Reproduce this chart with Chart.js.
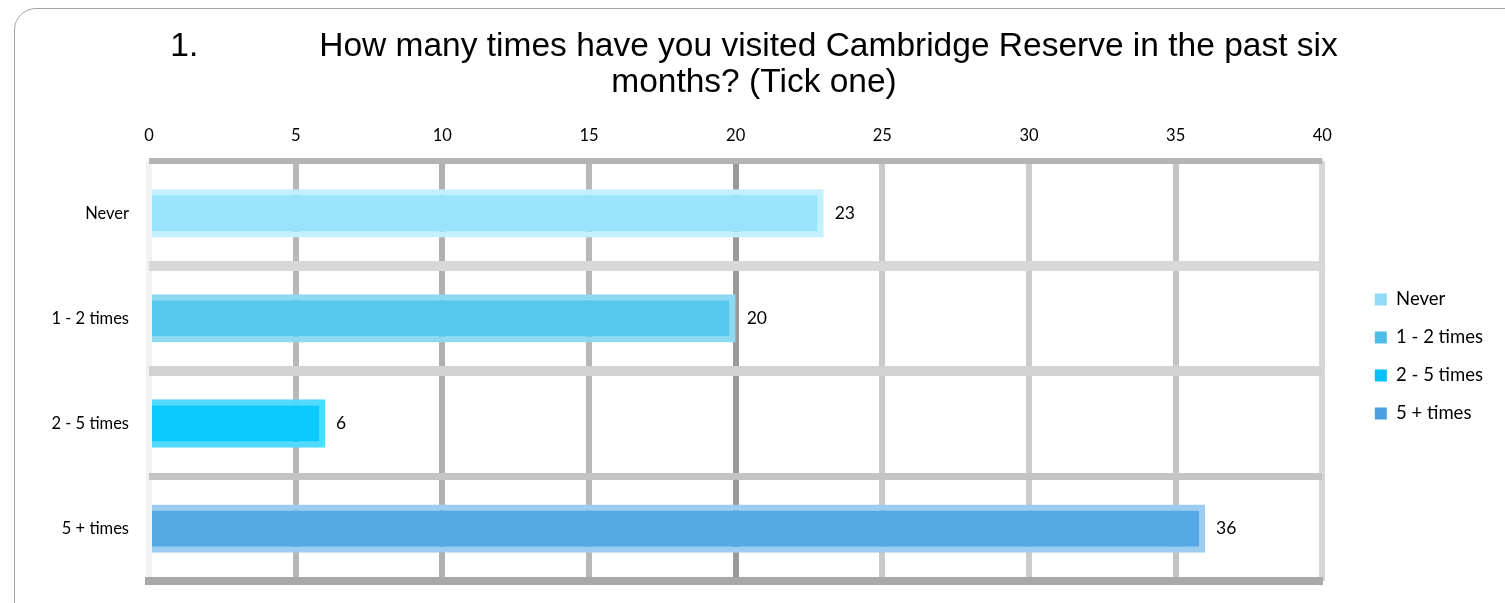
<!DOCTYPE html>
<html>
<head>
<meta charset="utf-8">
<script src="https://cdn.jsdelivr.net/npm/chart.js@4.4.0/dist/chart.umd.min.js"></script>
<style>
  html, body { margin: 0; padding: 0; background: #fff; overflow: hidden; }
  #frame {
    position: absolute; left: 14px; top: 8px;
    width: 1520px; height: 620px;
    border: 1px solid #a6a6a6; border-radius: 22px;
  }
  #chart { position: absolute; left: 0; top: 0; }
</style>
</head>
<body>
<div id="frame">
  <canvas id="chart" width="1490" height="602"></canvas>
</div>
<script>
// Data
const categories = ['Never', '1 - 2 times', '2 - 5 times', '5 + times'];
const visits = [23, 20, 6, 36];
const axisMin = 0;
const axisMax = 40;
const axisStep = 5;

const barColors = ['#9ae3fd', '#56c8ec', '#0bcbfe', '#56a9e5'];
const barEdges = ['#c4effe', '#8cd9f2', '#52dafe', '#9ccdf1'];
const legendColors = ['#8fdaf6', '#4dbde6', '#00c0f5', '#4d9fe0'];

// grid line styles (the source has a faux-3D, uneven look)
const xGridColors = ['#f2f2f2', '#b8b8b8', '#b0b0b0', '#b8b8b8', '#9a9a9a', '#cacaca', '#cccccc', '#c4c4c4', '#d6d6d6'];
const yGridColors = ['#b4b4b4', '#d8d8d8', '#d2d2d2', '#c4c4c4'];
const yGridWidths = [6, 10, 10, 7];

const tickFont = { family: 'Lato, "Open Sans", sans-serif', size: 16.5 };

const valueLabels = {
    id: 'valueLabels',
    afterDatasetsDraw(chart) {
        const ctx = chart.ctx;
        const meta = chart.getDatasetMeta(0);
        ctx.save();
        ctx.font = '17.5px Lato, "Open Sans", sans-serif';
        ctx.fillStyle = '#000';
        ctx.textAlign = 'left';
        ctx.textBaseline = 'middle';
        meta.data.forEach((bar, i) => {
            ctx.fillText(String(visits[i]), bar.x + 11, bar.y);
        });
        ctx.restore();
    }
};

const ctx = document.getElementById('chart').getContext('2d');
const chart = new Chart(ctx, {
    type: 'bar',
    data: {
        labels: categories,
        datasets: [{
            label: 'Visits',
            data: visits,
            backgroundColor: barColors,
            borderColor: barEdges,
            borderWidth: 6,
            borderSkipped: 'start',
            barPercentage: 0.46,
            categoryPercentage: 1
        }]
    },
    options: {
        indexAxis: 'y',
        responsive: false,
        animation: false,
        layout: {
            padding: { left: 0, right: 12, top: 0, bottom: 0 }
        },
        plugins: {
            title: {
                display: true,
                text: ['1.             How many times have you visited Cambridge Reserve in the past six', 'months? (Tick one)'],
                color: '#000',
                font: { family: '"Liberation Sans", Arial, sans-serif', size: 33.5, weight: 'normal', lineHeight: 1.075 },
                padding: { top: 20, bottom: 10 }
            },
            legend: {
                display: true,
                position: 'right',
                align: 'center',
                title: {
                    display: true,
                    text: ' ',
                    font: { size: 11, lineHeight: 1 },
                    padding: { top: 82, bottom: 0 }
                },
                labels: {
                    boxWidth: 12,
                    boxHeight: 12,
                    padding: 19.5,
                    color: '#000',
                    font: { family: 'Lato, "Open Sans", sans-serif', size: 18.5 },
                    generateLabels: () => categories.map((c, i) => ({
                        text: c,
                        fillStyle: legendColors[i],
                        strokeStyle: legendColors[i],
                        fontColor: '#000',
                        lineWidth: 0,
                        index: i
                    }))
                }
            },
            tooltip: { enabled: false }
        },
        scales: {
            x: {
                position: 'top',
                min: axisMin,
                max: axisMax,
                ticks: {
                    stepSize: axisStep,
                    color: '#000',
                    padding: 15,
                    font: tickFont
                },
                grid: {
                    color: xGridColors,
                    lineWidth: 6,
                    drawTicks: false
                },
                border: { display: false }
            },
            // empty bottom axis: only its border, the dark base line of the plot
            xBase: {
                type: 'linear',
                position: 'bottom',
                min: axisMin,
                max: axisMax,
                ticks: { display: false },
                grid: { display: false, drawTicks: false },
                border: { display: true, color: '#a8a8a8', width: 8 },
                afterFit(scale) { scale.height = 0; }
            },
            y: {
                ticks: {
                    color: '#000',
                    padding: 20,
                    font: tickFont
                },
                grid: {
                    color: yGridColors,
                    lineWidth: yGridWidths,
                    drawTicks: false,
                    offset: true
                },
                border: { display: false },
                afterFit(scale) { scale.width = 134; }
            },
            // empty right axis: keeps the gap between the plot and the legend
            yGap: {
                type: 'linear',
                position: 'right',
                ticks: { display: false },
                grid: { display: false, drawTicks: false },
                border: { display: false },
                afterFit(scale) { scale.width = 33; }
            }
        }
    },
    plugins: [valueLabels]
});
</script>
</body>
</html>
